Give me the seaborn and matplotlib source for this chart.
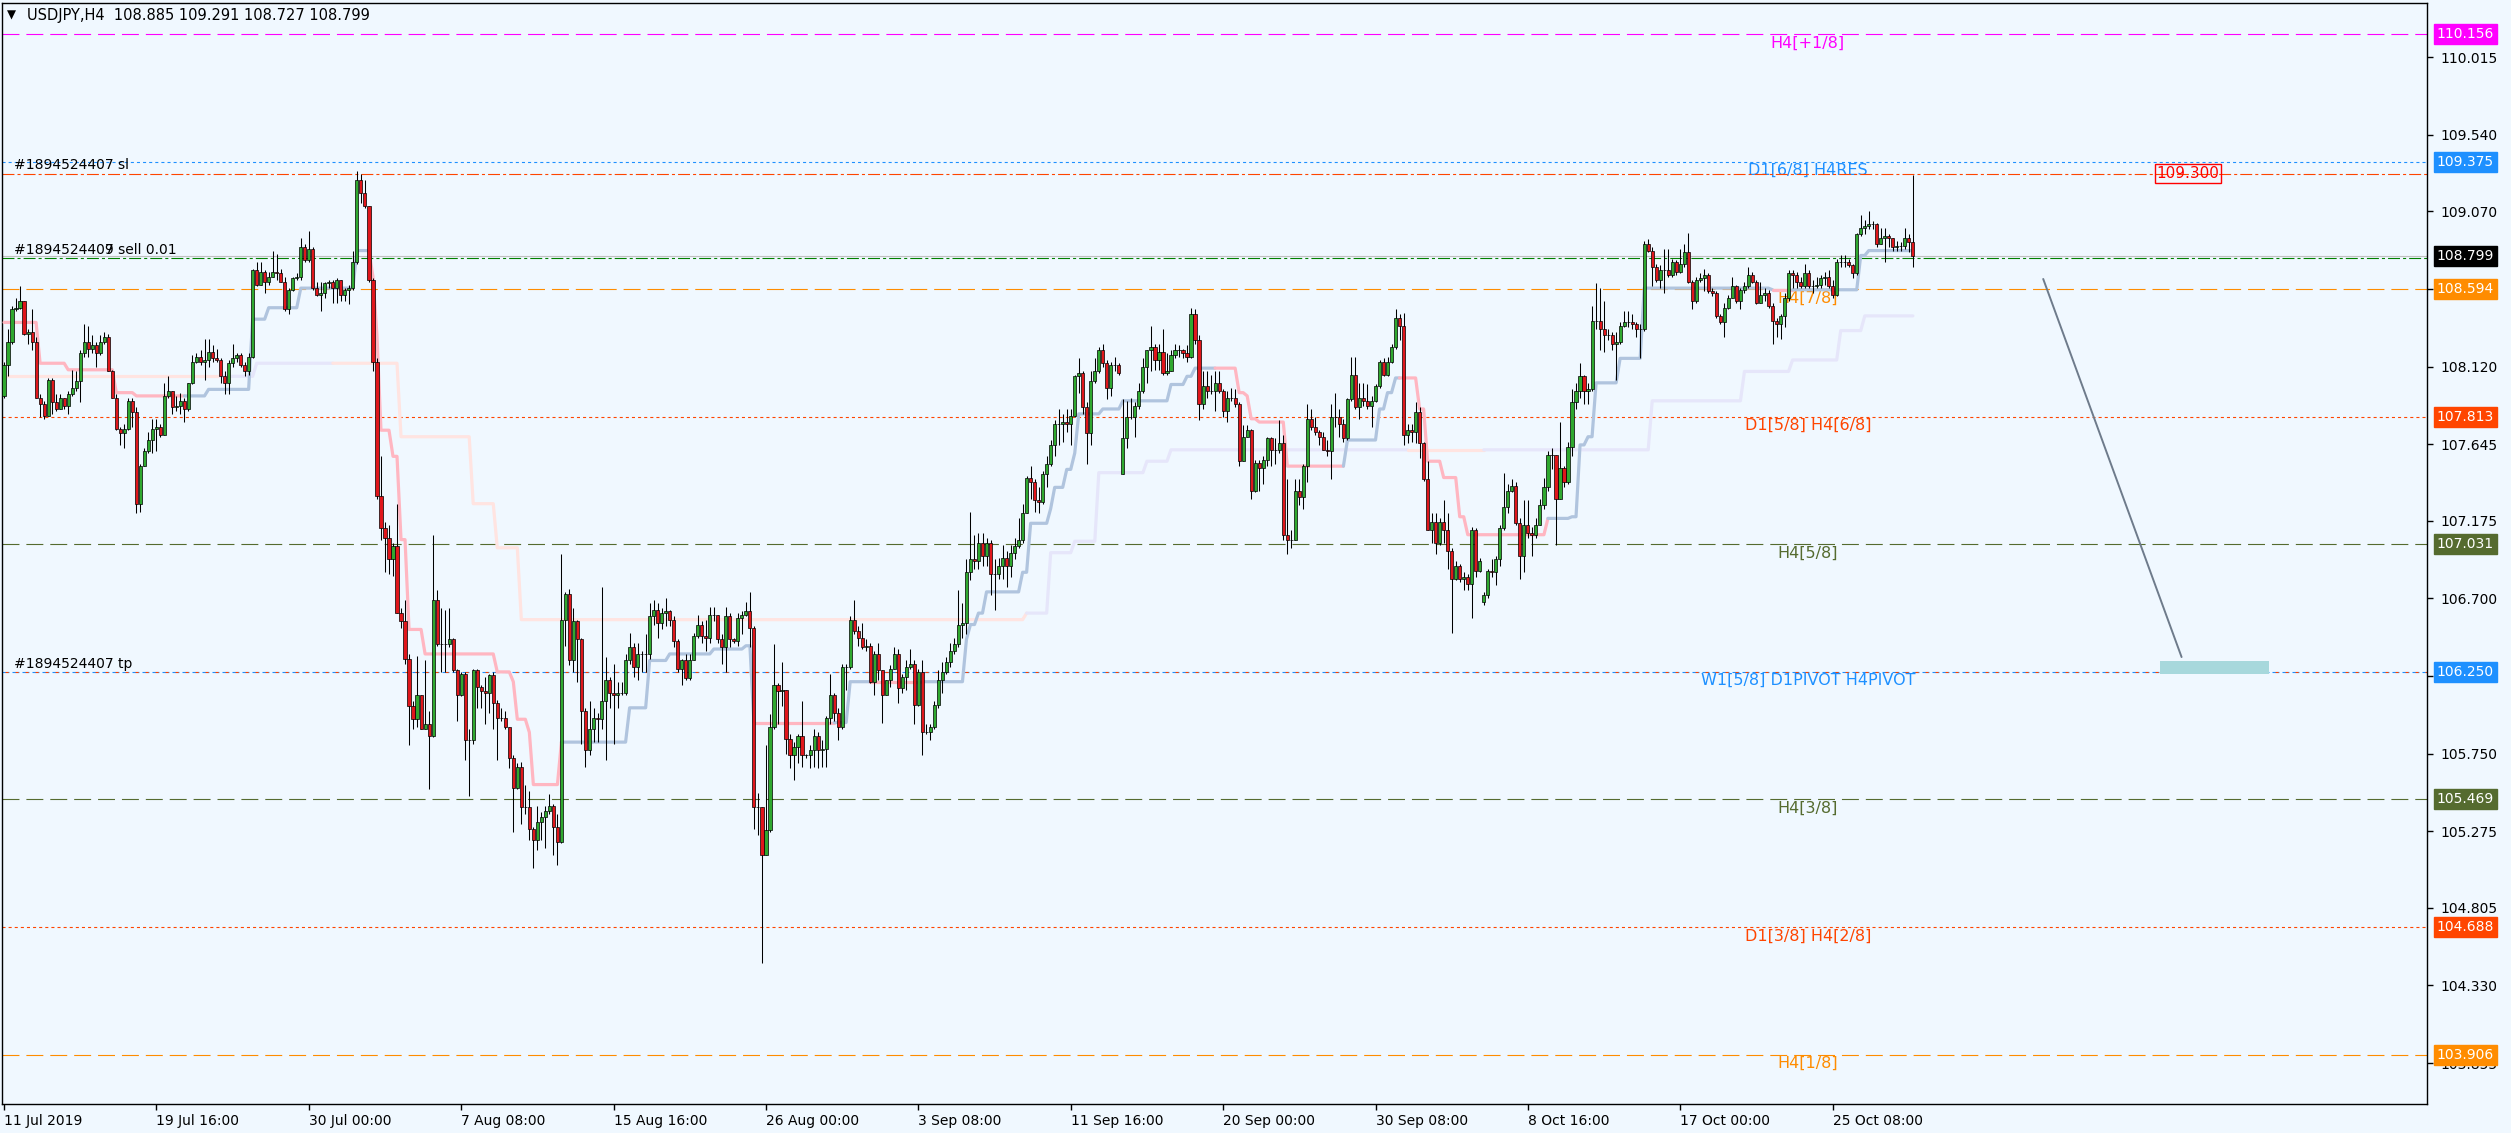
import matplotlib
matplotlib.use("Agg")
import matplotlib.pyplot as plt
import seaborn as sns
import numpy as np

# ---- price data (USDJPY H4) ----
first_open = 107.94
closes = [
    108.13, 108.27, 108.47, 108.48, 108.52, 108.32, 108.33, 108.27, 107.93, 107.89,   # 0
    107.82, 108.04, 107.90, 107.86, 107.93, 107.88, 107.95, 107.99, 108.03, 108.20,   # 10
    108.27, 108.23, 108.25, 108.20, 108.27, 108.30, 108.09, 107.93, 107.74, 107.71,   # 20
    107.74, 107.91, 107.84, 107.28, 107.51, 107.60, 107.67, 107.74, 107.75, 107.70,   # 30
    107.94, 107.97, 107.87, 107.88, 107.91, 107.86, 108.02, 108.15, 108.18, 108.15,   # 40
    108.16, 108.21, 108.17, 108.16, 108.06, 108.02, 108.14, 108.17, 108.19, 108.13,   # 50
    108.09, 108.18, 108.71, 108.62, 108.70, 108.64, 108.67, 108.70, 108.69, 108.64,   # 60
    108.47, 108.59, 108.66, 108.67, 108.85, 108.77, 108.84, 108.60, 108.56, 108.57,   # 70
    108.63, 108.64, 108.60, 108.65, 108.56, 108.59, 108.60, 108.76, 109.26, 109.18,   # 80
    109.10, 108.65, 108.15, 107.33, 107.13, 107.07, 106.94, 107.02, 106.61, 106.56,   # 90
    106.33, 106.04, 105.96, 106.11, 105.90, 105.93, 105.86, 106.69, 106.42, 106.42,   # 100
    106.42, 106.45, 106.26, 106.11, 106.24, 105.83, 105.83, 106.26, 106.16, 106.13,   # 110
    106.12, 106.23, 106.06, 105.97, 105.97, 105.91, 105.72, 105.54, 105.67, 105.42,   # 120
    105.42, 105.29, 105.22, 105.33, 105.36, 105.40, 105.43, 105.30, 105.21, 106.57,   # 130
    106.73, 106.32, 106.56, 106.45, 106.01, 105.77, 105.90, 105.97, 105.96, 106.07,   # 140
    106.20, 106.12, 106.11, 106.12, 106.12, 106.32, 106.40, 106.28, 106.36, 106.36,   # 150
    106.36, 106.59, 106.63, 106.55, 106.61, 106.62, 106.57, 106.44, 106.27, 106.32,   # 160
    106.21, 106.32, 106.47, 106.54, 106.47, 106.46, 106.60, 106.60, 106.45, 106.40,   # 170
    106.59, 106.45, 106.44, 106.58, 106.60, 106.62, 106.52, 105.42, 105.42, 105.13,   # 180
    105.28, 105.91, 106.17, 106.13, 106.14, 105.84, 105.74, 105.79, 105.86, 105.74,   # 190
    105.74, 105.77, 105.86, 105.77, 105.78, 105.97, 106.11, 106.00, 105.91, 106.28,   # 200
    106.28, 106.57, 106.50, 106.46, 106.40, 106.41, 106.19, 106.36, 106.26, 106.11,   # 210
    106.20, 106.27, 106.36, 106.15, 106.22, 106.28, 106.30, 106.05, 106.25, 105.88,   # 220
    105.88, 105.91, 106.05, 106.20, 106.25, 106.31, 106.38, 106.42, 106.54, 106.55,   # 230
    106.86, 106.94, 106.93, 107.04, 106.96, 107.04, 106.85, 106.85, 106.90, 106.95,   # 240
    106.90, 106.98, 107.02, 107.06, 107.22, 107.44, 107.41, 107.30, 107.29, 107.46,   # 250
    107.52, 107.64, 107.77, 107.77, 107.78, 107.77, 107.82, 108.06, 108.08, 107.87,   # 260
    107.71, 108.03, 108.09, 108.22, 108.14, 107.99, 108.13, 108.13, 108.08, 107.68,   # 270
    107.81, 107.81, 107.88, 107.97, 108.12, 108.22, 108.24, 108.16, 108.21, 108.08,   # 280
    108.09, 108.19, 108.22, 108.22, 108.20, 108.18, 108.44, 108.28, 107.89, 108.00,   # 290
    107.97, 107.97, 108.02, 107.97, 107.85, 107.93, 107.93, 107.89, 107.54, 107.69,   # 300
    107.73, 107.36, 107.53, 107.50, 107.55, 107.68, 107.61, 107.61, 107.65, 107.09,   # 310
    107.06, 107.06, 107.36, 107.32, 107.51, 107.80, 107.75, 107.72, 107.69, 107.61,   # 320
    107.60, 107.81, 107.81, 107.77, 107.68, 107.92, 108.07, 107.87, 107.93, 107.91,   # 330
    107.88, 107.91, 108.00, 108.15, 108.07, 108.15, 108.24, 108.42, 108.37, 107.70,   # 340
    107.73, 107.72, 107.84, 107.65, 107.43, 107.12, 107.17, 107.04, 107.17, 107.12,   # 350
    106.99, 106.82, 106.90, 106.82, 106.83, 106.79, 107.12, 106.87, 106.93, 106.72,   # 360
    106.87, 106.86, 106.94, 107.13, 107.26, 107.36, 107.39, 107.16, 106.96, 107.15,   # 370
    107.10, 107.09, 107.15, 107.27, 107.38, 107.58, 107.58, 107.31, 107.50, 107.41,   # 380
    107.63, 107.90, 107.97, 108.06, 107.97, 107.98, 108.40, 108.40, 108.35, 108.31,   # 390
    108.31, 108.26, 108.27, 108.37, 108.39, 108.39, 108.38, 108.35, 108.35, 108.87,   # 400
    108.83, 108.73, 108.65, 108.71, 108.71, 108.68, 108.76, 108.70, 108.75, 108.82,   # 410
    108.64, 108.52, 108.65, 108.66, 108.68, 108.58, 108.57, 108.43, 108.39, 108.48,   # 420
    108.54, 108.61, 108.52, 108.59, 108.61, 108.68, 108.64, 108.51, 108.56, 108.57,   # 430
    108.49, 108.40, 108.38, 108.43, 108.54, 108.69, 108.68, 108.64, 108.61, 108.69,   # 440
    108.61, 108.61, 108.62, 108.66, 108.67, 108.61, 108.56, 108.76, 108.76, 108.76,   # 450
    108.74, 108.69, 108.93, 108.97, 108.98, 108.99, 108.99, 108.87, 108.91, 108.92,   # 460
    108.91, 108.85, 108.86, 108.86, 108.91, 108.885, 108.799,                         # 470
]
highs = [
    108.15, 108.35, 108.49, 108.54, 108.61, 108.51, 108.35, 108.47, 108.30, 107.95,
    107.91, 108.05, 108.05, 107.95, 107.95, 107.91, 107.97, 108.10, 108.09, 108.22,
    108.38, 108.37, 108.31, 108.27, 108.31, 108.33, 108.32, 108.10, 107.95, 107.75,
    107.77, 107.93, 107.93, 107.87, 107.52, 107.62, 107.72, 107.80, 107.80, 107.77,
    108.02, 108.06, 107.97, 107.94, 107.96, 107.93, 108.02, 108.19, 108.20, 108.22,
    108.29, 108.29, 108.25, 108.23, 108.17, 108.09, 108.16, 108.26, 108.20, 108.20,
    108.15, 108.20, 108.72, 108.76, 108.76, 108.71, 108.70, 108.83, 108.81, 108.72,
    108.67, 108.60, 108.67, 108.69, 108.91, 108.87, 108.95, 108.85, 108.64, 108.64,
    108.64, 108.65, 108.65, 108.66, 108.60, 108.60, 108.62, 108.83, 109.32, 109.30,
    109.26, 109.10, 108.66, 108.17, 107.57, 107.17, 107.15, 107.04, 107.28, 106.64,
    106.69, 106.36, 106.07, 106.35, 106.11, 106.32, 106.01, 107.09, 106.75, 106.64,
    106.63, 106.64, 106.46, 106.27, 106.25, 106.25, 105.90, 106.27, 106.27, 106.17,
    106.22, 106.24, 106.25, 106.08, 106.03, 106.01, 105.91, 105.74, 105.69, 105.70,
    105.56, 105.52, 105.30, 105.43, 105.39, 105.43, 105.50, 105.44, 105.38, 106.97,
    106.74, 106.76, 106.64, 106.57, 106.46, 106.03, 106.07, 106.03, 106.00, 106.77,
    106.34, 106.22, 106.30, 106.19, 106.19, 106.36, 106.49, 106.43, 106.43, 106.38,
    106.48, 106.67, 106.69, 106.67, 106.64, 106.70, 106.63, 106.59, 106.45, 106.33,
    106.36, 106.36, 106.49, 106.60, 106.56, 106.57, 106.65, 106.65, 106.60, 106.48,
    106.65, 106.61, 106.46, 106.61, 106.62, 106.68, 106.74, 106.53, 105.51, 105.35,
    105.80, 105.99, 106.42, 106.18, 106.31, 106.12, 105.87, 105.82, 105.87, 106.07,
    105.75, 105.80, 105.90, 105.88, 105.83, 105.98, 106.24, 106.12, 106.03, 106.30,
    106.30, 106.59, 106.69, 106.53, 106.55, 106.45, 106.43, 106.38, 106.43, 106.19,
    106.20, 106.29, 106.40, 106.39, 106.24, 106.32, 106.39, 106.32, 106.27, 106.32,
    105.93, 105.93, 106.07, 106.26, 106.31, 106.34, 106.43, 106.46, 106.75, 106.67,
    106.94, 107.23, 107.09, 107.10, 107.10, 107.07, 107.06, 106.94, 106.95, 107.03,
    106.99, 107.03, 107.07, 107.19, 107.28, 107.45, 107.51, 107.43, 107.38, 107.48,
    107.57, 107.67, 107.79, 107.86, 107.83, 107.86, 107.86, 108.07, 108.17, 108.09,
    107.90, 108.09, 108.17, 108.24, 108.26, 108.16, 108.15, 108.18, 108.14, 107.92,
    107.91, 107.93, 107.90, 108.02, 108.17, 108.22, 108.37, 108.26, 108.26, 108.35,
    108.20, 108.22, 108.26, 108.25, 108.23, 108.25, 108.48, 108.47, 108.31, 108.09,
    108.09, 108.07, 108.09, 108.09, 107.98, 107.97, 107.99, 107.98, 107.90, 107.76,
    107.76, 107.74, 107.55, 107.55, 107.57, 107.69, 107.69, 107.68, 107.79, 107.70,
    107.43, 107.12, 107.43, 107.43, 107.52, 107.89, 107.86, 107.81, 107.73, 107.72,
    107.67, 107.89, 107.96, 107.86, 107.80, 107.93, 108.18, 108.18, 108.02, 108.02,
    108.01, 107.94, 108.01, 108.16, 108.17, 108.18, 108.26, 108.47, 108.44, 108.45,
    107.77, 107.77, 107.90, 107.87, 107.66, 107.54, 107.22, 107.22, 107.19, 107.30,
    107.22, 107.01, 106.93, 106.91, 106.86, 106.85, 107.14, 107.13, 106.95, 106.74,
    106.88, 106.94, 106.96, 107.15, 107.47, 107.40, 107.43, 107.41, 107.19, 107.30,
    107.30, 107.14, 107.19, 107.31, 107.44, 107.60, 107.62, 107.51, 107.78, 107.51,
    107.66, 107.98, 108.02, 108.14, 108.07, 108.02, 108.49, 108.63, 108.60, 108.52,
    108.35, 108.33, 108.33, 108.39, 108.46, 108.46, 108.44, 108.39, 108.38, 108.89,
    108.90, 108.85, 108.75, 108.74, 108.84, 108.84, 108.78, 108.77, 108.84, 108.87,
    108.94, 108.65, 108.67, 108.69, 108.72, 108.69, 108.60, 108.58, 108.44, 108.51,
    108.56, 108.67, 108.62, 108.60, 108.64, 108.73, 108.70, 108.65, 108.64, 108.60,
    108.59, 108.51, 108.42, 108.44, 108.57, 108.71, 108.71, 108.70, 108.67, 108.75,
    108.71, 108.65, 108.67, 108.68, 108.70, 108.71, 108.65, 108.78, 108.80, 108.80,
    108.78, 108.75, 108.94, 109.05, 109.02, 109.07, 109.01, 109.00, 108.97, 108.97,
    108.93, 108.91, 108.89, 108.88, 108.97, 108.93, 109.291,
]
lows = [
    107.93, 108.06, 108.26, 108.46, 108.47, 108.31, 108.26, 108.22, 107.93, 107.81,
    107.80, 107.82, 107.83, 107.85, 107.86, 107.86, 107.83, 107.94, 107.97, 107.90,
    108.18, 108.18, 108.20, 108.12, 108.19, 108.26, 108.09, 107.93, 107.73, 107.64,
    107.62, 107.73, 107.75, 107.22, 107.23, 107.51, 107.59, 107.59, 107.60, 107.69,
    107.73, 107.93, 107.83, 107.85, 107.83, 107.78, 107.85, 108.01, 108.14, 108.13,
    108.04, 108.12, 108.15, 108.15, 108.02, 107.95, 107.95, 108.12, 108.15, 108.12,
    108.06, 108.07, 108.17, 108.61, 108.62, 108.57, 108.62, 108.67, 108.65, 108.64,
    108.46, 108.44, 108.58, 108.65, 108.65, 108.76, 108.76, 108.59, 108.55, 108.46,
    108.54, 108.60, 108.51, 108.51, 108.52, 108.52, 108.50, 108.59, 108.75, 109.12,
    109.09, 108.64, 108.09, 107.31, 107.06, 106.86, 106.85, 106.84, 106.61, 106.52,
    106.30, 105.80, 105.90, 105.91, 105.90, 105.90, 105.53, 105.85, 106.41, 106.25,
    106.25, 106.40, 106.25, 105.95, 106.10, 105.71, 105.49, 105.81, 106.03, 106.03,
    105.93, 106.00, 105.90, 105.71, 105.95, 105.90, 105.66, 105.27, 105.53, 105.32,
    105.38, 105.22, 105.05, 105.16, 105.22, 105.17, 105.38, 105.13, 105.07, 105.20,
    106.41, 106.29, 106.25, 106.19, 105.81, 105.67, 105.74, 105.82, 105.82, 105.90,
    105.71, 106.03, 105.81, 106.03, 106.11, 106.11, 106.30, 106.22, 106.20, 106.25,
    106.25, 106.33, 106.54, 106.46, 106.51, 106.53, 106.53, 106.40, 106.25, 106.17,
    106.20, 106.20, 106.32, 106.46, 106.43, 106.38, 106.43, 106.56, 106.43, 106.30,
    106.25, 106.40, 106.43, 106.41, 106.48, 106.59, 106.40, 105.29, 105.25, 104.47,
    105.14, 105.27, 105.90, 105.93, 106.04, 105.75, 105.66, 105.59, 105.69, 105.67,
    105.72, 105.66, 105.67, 105.66, 105.67, 105.67, 105.93, 105.95, 105.83, 105.90,
    106.14, 106.27, 106.48, 106.41, 106.39, 106.38, 106.18, 106.11, 106.20, 105.94,
    106.11, 106.16, 106.27, 106.06, 106.12, 106.14, 106.27, 105.93, 106.04, 105.74,
    105.87, 105.83, 105.90, 106.03, 106.12, 106.24, 106.28, 106.36, 106.40, 106.46,
    106.48, 106.81, 106.88, 106.88, 106.90, 106.90, 106.72, 106.63, 106.82, 106.82,
    106.77, 106.83, 106.94, 107.01, 107.04, 107.22, 107.31, 107.23, 107.22, 107.28,
    107.38, 107.51, 107.57, 107.64, 107.66, 107.72, 107.64, 107.81, 107.96, 107.83,
    107.52, 107.64, 108.02, 108.08, 108.12, 107.92, 107.94, 108.09, 108.07, 107.46,
    107.62, 107.80, 107.69, 107.86, 107.96, 108.02, 108.09, 108.10, 108.10, 108.07,
    108.07, 108.09, 108.17, 108.18, 108.17, 108.15, 108.17, 108.26, 107.79, 107.86,
    107.93, 107.95, 107.85, 107.96, 107.81, 107.78, 107.91, 107.87, 107.51, 107.57,
    107.69, 107.31, 107.35, 107.36, 107.40, 107.51, 107.51, 107.52, 107.59, 107.06,
    106.97, 107.01, 107.06, 107.27, 107.25, 107.41, 107.73, 107.70, 107.64, 107.61,
    107.57, 107.43, 107.75, 107.69, 107.66, 107.67, 107.91, 107.86, 107.80, 107.88,
    107.86, 107.75, 107.90, 107.99, 108.06, 108.06, 108.14, 108.23, 108.28, 107.64,
    107.65, 107.66, 107.65, 107.56, 107.42, 107.12, 107.04, 106.97, 107.03, 107.04,
    106.88, 106.49, 106.81, 106.80, 106.75, 106.75, 106.58, 106.83, 106.86, 106.66,
    106.70, 106.83, 106.78, 106.90, 107.12, 107.22, 107.35, 107.15, 106.82, 106.86,
    107.07, 106.96, 107.07, 107.15, 107.25, 107.36, 107.49, 107.03, 107.31, 107.38,
    107.40, 107.57, 107.86, 107.93, 107.89, 107.89, 107.97, 108.35, 108.22, 108.21,
    108.28, 108.22, 108.04, 108.26, 108.36, 108.36, 108.35, 108.30, 108.17, 108.34,
    108.82, 108.61, 108.64, 108.60, 108.57, 108.67, 108.67, 108.68, 108.69, 108.73,
    108.63, 108.47, 108.51, 108.64, 108.58, 108.57, 108.55, 108.42, 108.38, 108.30,
    108.47, 108.54, 108.51, 108.47, 108.57, 108.60, 108.63, 108.50, 108.52, 108.52,
    108.48, 108.26, 108.30, 108.29, 108.36, 108.52, 108.60, 108.60, 108.60, 108.60,
    108.60, 108.57, 108.60, 108.60, 108.62, 108.60, 108.54, 108.55, 108.73, 108.73,
    108.73, 108.66, 108.68, 108.92, 108.93, 108.96, 108.96, 108.85, 108.87, 108.76,
    108.85, 108.83, 108.83, 108.83, 108.84, 108.82, 108.727,
]
gap_bars = [279, 369]
gap_opens = [107.46, 106.68]

# trailing-stop indicator (steps): start bar, level, side ('dn' pink / 'up' blue)
trail_start = [0, 9, 16, 28, 33,
               45, 51, 62, 66, 74, 88,
               91, 92, 93, 94, 97, 99, 101, 105, 123, 127, 128, 131, 132,
               139, 156, 161, 166, 177, 185,
               187,
               207, 211,
               216,
               229, 240, 241, 243, 245, 254, 256, 261, 262, 265, 267, 268, 274, 279, 291, 295, 297,
               302, 308, 310, 311, 313, 320,
               334, 335, 343, 345, 347,
               348, 353, 355, 359, 363, 365,
               385, 391, 393, 395, 397, 403, 409,
               441,
               446, 463, 465]
trail_level = [108.39, 108.14, 108.10, 107.96, 107.94,
               107.94, 107.98, 108.41, 108.48, 108.60, 108.83,
               108.83, 108.67, 108.31, 107.73, 107.57, 107.06, 106.51, 106.36, 106.25, 106.19, 105.96, 105.88, 105.56,
               105.82, 106.03, 106.32, 106.36, 106.39, 106.41,
               105.94,
               105.94, 106.19,
               106.19,
               106.19, 106.45, 106.54, 106.61, 106.74, 106.86, 107.16, 107.25, 107.38, 107.49, 107.59, 107.83,
               107.86, 107.91, 108.01, 108.06, 108.11,
               108.11, 107.96, 107.94, 107.80, 107.78, 107.51,
               107.51, 107.67, 107.86, 107.96, 108.05,
               108.05, 107.86, 107.54, 107.44, 107.20, 107.09,
               107.19, 107.20, 107.64, 107.69, 108.02, 108.17, 108.60,
               108.59,
               108.59, 108.80, 108.83]
trail_side = (["dn"] * 5 + ["up"] * 6 + ["dn"] * 13 + ["up"] * 6 + ["dn"] + ["up"] * 2 + ["dn"]
              + ["up"] * 17 + ["dn"] * 6 + ["up"] * 5 + ["dn"] * 6 + ["up"] * 7 + ["dn"] + ["up"] * 3)

# higher timeframe trailing line
htf_start = [0, 54, 63, 82, 99, 117, 123, 129, 255, 261, 267, 273, 285, 291, 350, 369, 411, 434, 446, 458, 464]
htf_level = [108.06, 108.06, 108.14, 108.14, 107.69, 107.28, 107.01, 106.57, 106.61, 106.98, 107.05,
             107.47, 107.54, 107.61, 107.61, 107.61, 107.91, 108.09, 108.16, 108.34, 108.43]
htf_side = ["dn", "up", "up", "dn", "dn", "dn", "dn", "dn", "up", "up", "up",
            "up", "up", "up", "dn", "up", "up", "up", "up", "up", "up"]

# horizontal levels
level_price = [110.156, 109.375, 109.300, 108.799, 108.785, 108.594, 107.813, 107.031, 106.250, 105.469, 104.688, 103.906]
level_color = ["#FF00FF", "#1E90FF", "#FF4500", "#C0C0C0", "#008000", "#FF8C00", "#FF4500", "#556B2F",
               "#1E90FF", "#556B2F", "#FF4500", "#FF8C00"]
level_style = ["long", "dot", "dashdot", "solid", "dashdot", "long", "dot", "long", "dash", "long", "dot", "long"]

label_text = ["H4[+1/8]", "D1[6/8] H4RES", "H4[7/8]", "D1[5/8] H4[6/8]", "H4[5/8]",
              "W1[5/8] D1PIVOT H4PIVOT", "H4[3/8]", "D1[3/8] H4[2/8]", "H4[1/8]"]
label_price = [110.156, 109.375, 108.594, 107.813, 107.031, 106.250, 105.469, 104.688, 103.906]
label_color = ["#FF00FF", "#1E90FF", "#FF8C00", "#FF4500", "#556B2F", "#1E90FF", "#556B2F", "#FF4500", "#FF8C00"]

axis_box_price = [110.156, 109.375, 108.799, 108.594, 107.813, 107.031, 106.250, 105.469, 104.688, 103.906]
axis_box_color = ["#FF00FF", "#1E90FF", "#000000", "#FF8C00", "#FF4500", "#556B2F", "#1E90FF", "#556B2F", "#FF4500", "#FF8C00"]

ytick_vals = [110.015, 109.540, 109.070, 108.595, 108.120, 107.645, 107.175, 106.700, 106.225,
              105.750, 105.275, 104.805, 104.330, 103.855]
xtick_bars = [0, 38, 76, 114, 152, 190, 228, 266, 304, 342, 380, 418, 456]
xtick_labels = ["11 Jul 2019", "19 Jul 16:00", "30 Jul 00:00", "7 Aug 08:00", "15 Aug 16:00", "26 Aug 00:00",
                "3 Sep 08:00", "11 Sep 16:00", "20 Sep 00:00", "30 Sep 08:00", "8 Oct 16:00", "17 Oct 00:00",
                "25 Oct 08:00"]

# chart objects: trend line and target zone
trend_bars = [508.5, 543.0]
trend_prices = [108.656, 106.341]
zone_bars = [537.7, 564.9]
zone_prices = [106.237, 106.316]
sl_box_bar = 544.6

bg = "#F0F8FF"
sns.set_style("ticks")
plt.rcParams["font.family"] = ["DejaVu Sans"]
plt.rcParams["lines.scale_dashes"] = False

fig = plt.figure(figsize=(25.11, 11.33), dpi=100, facecolor=bg)
ax = fig.add_axes([2 / 2511, 29 / 1133, 2425 / 2511, 1101 / 1133])
ax.set_facecolor(bg)
ax.set_xlim(-0.5, 604.2)
ax.set_ylim(103.604, 110.346)

# level lines
styles = {"long": (0, (12.2, 5.0)), "dot": (0, (2.2, 2.2)), "dashdot": (0, (8.6, 2.2, 2.2, 2.2)),
          "solid": "-", "dash": (0, (5.0, 2.2))}
for p, c, s in zip(level_price, level_color, level_style):
    ax.axhline(p, color=c, lw=0.8, linestyle=styles[s], zorder=2)
    if s == "dash":
        ax.axhline(p, color="#FF4500", lw=0.8, linestyle=(5.0, (2.2, 5.0)), zorder=2)

for t, p, c in zip(label_text, label_price, label_color):
    ax.annotate(t, xy=(0.7447, p), xycoords=("axes fraction", "data"), xytext=(0, -1),
                textcoords="offset points", ha="center", va="top", color=c, fontsize=11.5, zorder=1)


def build_runs(starts, levels, sides, last):
    runs = []
    n = len(starts)
    i = 0
    while i < n:
        j = i
        while j + 1 < n and sides[j + 1] == sides[i]:
            j += 1
        xs, ys = [], []
        for k in range(i, j + 1):
            stop = starts[k + 1] if k + 1 < n else last + 1
            for b in range(starts[k], stop):
                xs.append(b)
                ys.append(levels[k])
        if j + 1 < n:
            xs.append(starts[j + 1])
            ys.append(levels[j + 1])
        runs.append((sides[i], xs, ys))
        i = j + 1
    return runs


last_bar = len(closes) - 1
for side, xs, ys in build_runs(htf_start, htf_level, htf_side, last_bar):
    sns.lineplot(x=xs, y=ys, ax=ax, color="#FFE4E1" if side == "dn" else "#E6E6FA",
                 linewidth=2.3, estimator=None, sort=False, legend=False, zorder=2.5)
for side, xs, ys in build_runs(trail_start, trail_level, trail_side, last_bar):
    sns.lineplot(x=xs, y=ys, ax=ax, color="#FFB6C1" if side == "dn" else "#B0C4DE",
                 linewidth=2.3, estimator=None, sort=False, legend=False, zorder=2.6)

# candles
opens = [first_open] + closes[:-1]
for b, o in zip(gap_bars, gap_opens):
    opens[b] = o
o = np.array(opens)
c = np.array(closes)
h = np.maximum(np.array(highs), np.maximum(o, c))
l = np.minimum(np.array(lows), np.minimum(o, c))
idx = np.arange(len(c))
up = c >= o
ax.vlines(idx, l, h, color="black", lw=0.75, zorder=4)
ax.bar(idx[up], (c - o)[up], bottom=o[up], width=0.78, color="#2FA82F", edgecolor="black", linewidth=0.5, zorder=5)
ax.bar(idx[~up], (o - c)[~up], bottom=c[~up], width=0.78, color="#E0161B", edgecolor="black", linewidth=0.5, zorder=5)

# trend line and zone
ax.plot(trend_bars, trend_prices, color="#6E7B8B", lw=1.4, zorder=3)
ax.fill_between(zone_bars, zone_prices[0], zone_prices[1], color="#A7D8DC", lw=0, zorder=3)
ax.text(sl_box_bar, 109.300, "109.300", ha="center", va="center", color="#FF0000", fontsize=11, zorder=6,
        bbox=dict(boxstyle="square,pad=0.12", fc="none", ec="#FF0000", lw=1.0))

# order texts
for txt, p in [("#1894524407 sl", 109.300), ("#1894524409 sell 0.01", 108.785), ("#1894524407 tp", 106.250)]:
    ax.annotate(txt, xy=(0.005, p), xycoords=("axes fraction", "data"), xytext=(0, 1),
                textcoords="offset points", ha="left", va="bottom", fontsize=10, color="black", zorder=6)

# the two order tickets overlap: a second ticket number ends in 7 on top of the 9
renderer = fig.canvas.get_renderer()
probe = ax.annotate("#189452440", xy=(0.005, 108.785), xycoords=("axes fraction", "data"), xytext=(0, 1),
                    textcoords="offset points", ha="left", va="bottom", fontsize=10)
shift_pt = probe.get_window_extent(renderer).width * 72.0 / fig.dpi
probe.remove()
ax.annotate("7", xy=(0.005, 108.785), xycoords=("axes fraction", "data"), xytext=(shift_pt, 1),
            textcoords="offset points", ha="left", va="bottom", fontsize=10, color="black", zorder=6)

# header
ax.text(0.002, 0.989, "\u25BC", transform=ax.transAxes, ha="left", va="center", fontsize=8.5, color="black")
ax.text(0.0103, 0.989, "USDJPY,H4  108.885 109.291 108.727 108.799", transform=ax.transAxes,
        ha="left", va="center", fontsize=10.5, color="black")

# axes
ax.yaxis.tick_right()
ax.set_yticks(ytick_vals)
ax.set_yticklabels([f"{v:.3f}" for v in ytick_vals])
ax.set_xticks(xtick_bars)
ax.set_xticklabels(xtick_labels, ha="left")
ax.tick_params(axis="y", direction="out", length=4, width=1, pad=6, labelsize=10, colors="black")
ax.tick_params(axis="x", direction="out", length=4, width=1, pad=3, labelsize=10, colors="black")
ax.set_xlabel("")
ax.set_ylabel("")
for sp in ax.spines.values():
    sp.set_visible(True)
    sp.set_color("black")
    sp.set_linewidth(1.0)

for p, col in zip(axis_box_price, axis_box_color):
    ax.annotate(f"{p:.3f}", xy=(1.0, p), xycoords=("axes fraction", "data"), xytext=(7, 0),
                textcoords="offset points", ha="left", va="center", fontsize=10, color="white",
                annotation_clip=False, zorder=10,
                bbox=dict(boxstyle="square,pad=0.22", fc=col, ec=col))

fig.savefig("out.png", dpi=100, facecolor=bg)
